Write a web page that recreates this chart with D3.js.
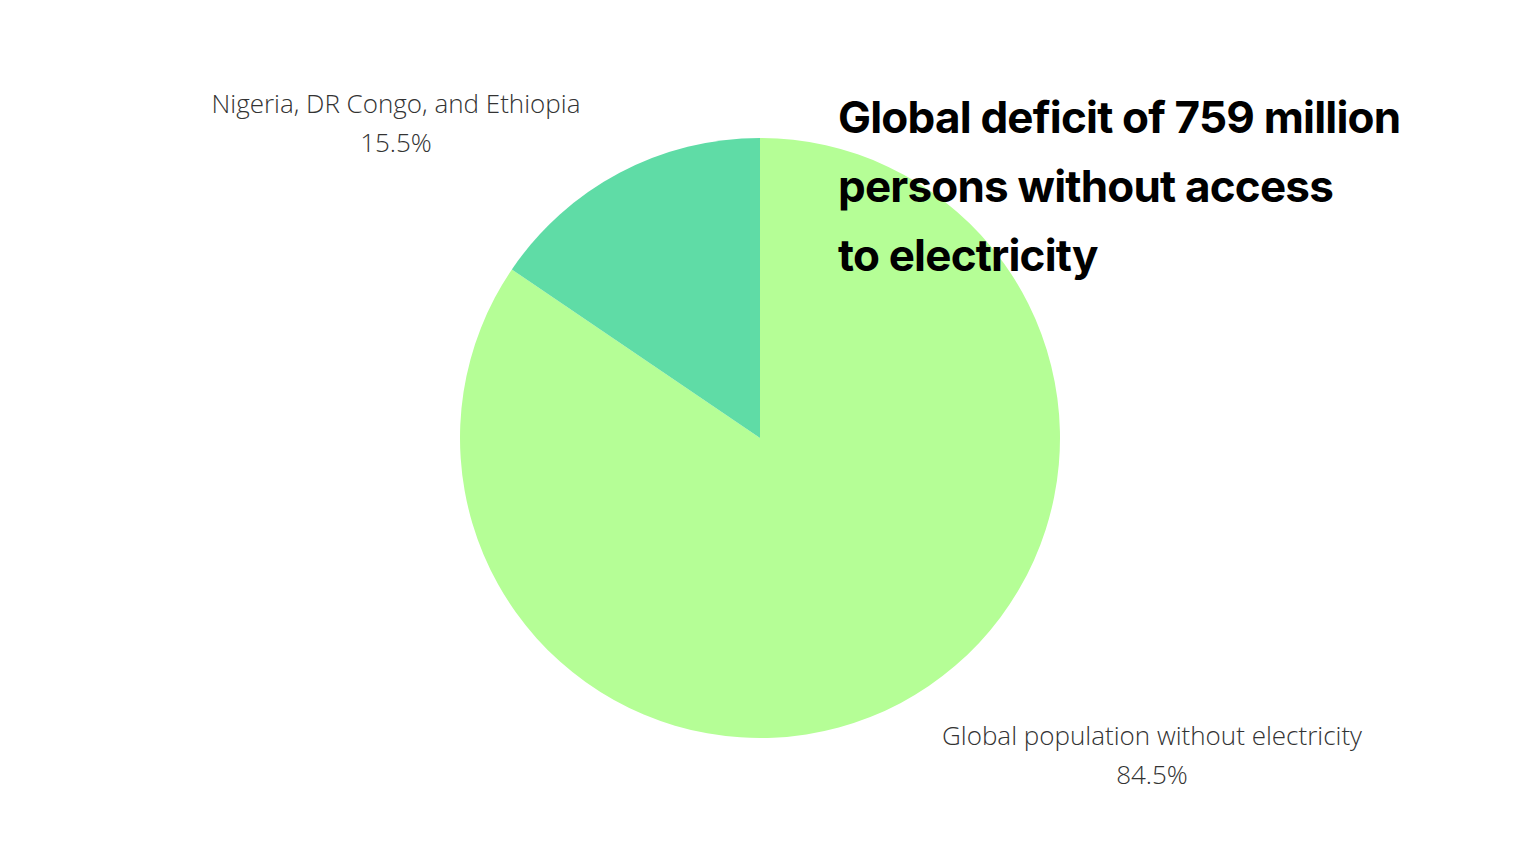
<!DOCTYPE html>
<html lang="en">
<head>
<meta charset="UTF-8" />
<script src="https://d3js.org/d3.v7.min.js"></script>
<style>
  body { margin: 0; background: #fff; }
  svg { display: block; }
</style>
</head>
<body>
<svg id="chart" width="1536" height="864"></svg>
<script>
const categories = ["Global population without electricity", "Nigeria, DR Congo, and Ethiopia"];
const values = [84.5, 15.5];
const colors = ["#b5fe96", "#5fdca6"];
const titleLines = ["Global deficit of 759 million", "persons without access", "to electricity"];

const svg = d3.select("#chart");
const cx = 760, cy = 438, radius = 300;

const pie = d3.pie().sort(null).value(d => d);
const arc = d3.arc().innerRadius(0).outerRadius(radius);

const g = svg.append("g").attr("transform", `translate(${cx},${cy})`);
g.selectAll("path")
  .data(pie(values))
  .join("path")
  .attr("d", arc)
  .attr("fill", (d, i) => colors[i]);

// slice labels
const labelPos = [[1152, 745], [396, 113]];
categories.forEach((c, i) => {
  const t = svg.append("text")
    .attr("x", labelPos[i][0]).attr("y", labelPos[i][1])
    .attr("text-anchor", "middle")
    .attr("font-family", "Open Sans, sans-serif")
    .attr("font-weight", 300)
    .attr("font-size", 26)
    .attr("fill", "#333");
  t.append("tspan").attr("x", labelPos[i][0]).text(c);
  t.append("tspan").attr("x", labelPos[i][0]).attr("dy", 39).text(values[i] + "%");
});

// title
svg.append("g").selectAll("text")
  .data(titleLines)
  .join("text")
  .attr("x", 838)
  .attr("y", (d, i) => 133 + i * 69)
  .attr("font-family", "Inter, sans-serif")
  .attr("font-weight", 700)
  .attr("font-size", 44)
  .attr("letter-spacing", -0.8)
  .attr("fill", "#000")
  .text(d => d);
</script>
</body>
</html>
